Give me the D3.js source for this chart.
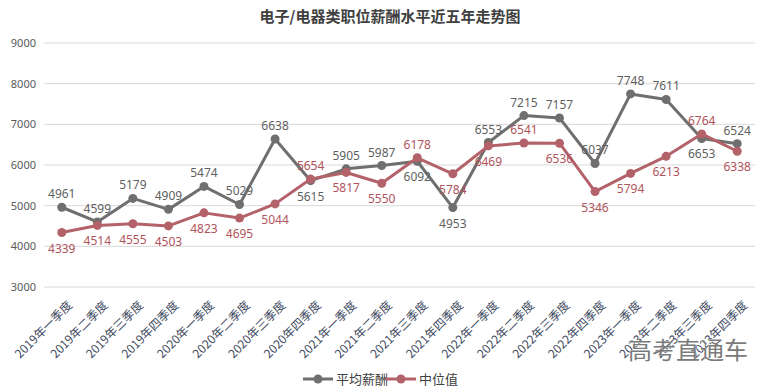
<!DOCTYPE html>
<html>
<head>
<meta charset="utf-8">
<script src="https://cdn.jsdelivr.net/npm/d3@7"></script>
<style>
  body { margin: 0; background: #fff; }
  svg text { font-family: "Noto Sans CJK SC", "Microsoft YaHei", sans-serif; }
</style>
</head>
<body>
<div id="chart"></div>
<script>
// data
const quarters = [
  '2019年一季度', '2019年二季度', '2019年三季度', '2019年四季度',
  '2020年一季度', '2020年二季度', '2020年三季度', '2020年四季度',
  '2021年一季度', '2021年二季度', '2021年三季度', '2021年四季度',
  '2022年一季度', '2022年二季度', '2022年三季度', '2022年四季度',
  '2023年一季度', '2023年二季度', '2023年三季度', '2023年四季度'
];
const avgSalary = [4961, 4599, 5179, 4909, 5474, 5029, 6638, 5615, 5905, 5987,
  6092, 4953, 6553, 7215, 7157, 6037, 7748, 7611, 6653, 6524];
const medianSalary = [4339, 4514, 4555, 4503, 4823, 4695, 5044, 5654, 5817, 5550,
  6178, 5784, 6469, 6541, 6536, 5346, 5794, 6213, 6764, 6338];
const yTicks = [3000, 4000, 5000, 6000, 7000, 8000, 9000];
const seriesNames = ['平均薪酬', '中位值'];

// label placement (1 = above, -1 = below)
const avgLabelPos = [1, 1, 1, 1, 1, 1, 1, -1, 1, 1, -1, -1, 1, 1, 1, 1, 1, 1, -1, 1];
const medLabelPos = [-1, -1, -1, -1, -1, -1, -1, 1, -1, -1, 1, -1, -1, 1, -1, -1, -1, -1, 1, -1];

const width = 765, height = 392;
const margin = { top: 43, right: 10, bottom: 105, left: 44 };
const grey = '#6f6f6f', red = '#b4626a';

const svg = d3.select('#chart').append('svg')
  .attr('width', width)
  .attr('height', height);

svg.append('text')
  .attr('x', 390).attr('y', 22)
  .attr('text-anchor', 'middle')
  .attr('font-size', 15)
  .attr('font-weight', 'bold')
  .attr('fill', '#404040')
  .text('电子/电器类职位薪酬水平近五年走势图');

const x = d3.scaleBand()
  .domain(quarters)
  .range([margin.left, width - margin.right]);

const y = d3.scaleLinear()
  .domain([3000, 9000])
  .range([height - margin.bottom, margin.top]);

// grid
svg.append('g')
  .selectAll('line')
  .data(yTicks)
  .join('line')
  .attr('x1', margin.left)
  .attr('x2', width - margin.right)
  .attr('y1', d => y(d))
  .attr('y2', d => y(d))
  .attr('stroke', '#d9d9d9')
  .attr('stroke-width', 1);

// y axis
const yAxis = svg.append('g')
  .attr('transform', `translate(${margin.left},0)`)
  .call(d3.axisLeft(y).tickValues(yTicks).tickSize(0).tickPadding(8).tickFormat(d3.format('d')));
yAxis.select('.domain').remove();
yAxis.selectAll('text')
  .attr('font-size', 11)
  .attr('fill', '#595959')
  .style('font-family', '"Noto Sans", sans-serif');

// x axis
const xAxis = svg.append('g')
  .attr('transform', `translate(0,${height - margin.bottom})`)
  .call(d3.axisBottom(x).tickSize(0));
xAxis.select('.domain').remove();
xAxis.selectAll('text')
  .attr('font-size', 12)
  .attr('fill', '#404a60')
  .attr('text-anchor', 'end')
  .attr('dy', 0)
  .attr('transform', 'translate(9,17) rotate(-45)');

const cx = d => x(d) + x.bandwidth() / 2;

function drawSeries(values, color, labelPos, labelColor) {
  const pts = quarters.map((q, i) => ({ q, v: values[i], pos: labelPos[i] }));
  const line = d3.line().x(d => cx(d.q)).y(d => y(d.v));
  const g = svg.append('g');
  g.append('path')
    .datum(pts)
    .attr('d', line)
    .attr('fill', 'none')
    .attr('stroke', color)
    .attr('stroke-width', 3)
    .attr('stroke-linejoin', 'round');
  g.selectAll('circle')
    .data(pts)
    .join('circle')
    .attr('cx', d => cx(d.q))
    .attr('cy', d => y(d.v))
    .attr('r', 4.5)
    .attr('fill', color);
  return { g, pts, labelColor };
}

const s1 = drawSeries(avgSalary, grey, avgLabelPos, '#5f5f5f');
const s2 = drawSeries(medianSalary, red, medLabelPos, '#b0545c');

// labels on top of both lines
[s1, s2].forEach(s => {
  svg.append('g')
    .selectAll('text')
    .data(s.pts)
    .join('text')
    .attr('x', d => cx(d.q))
    .attr('y', d => y(d.v) + (d.pos > 0 ? -9 : 20))
    .attr('text-anchor', 'middle')
    .attr('font-size', 12)
    .attr('fill', s.labelColor)
    .style('font-family', '"Noto Sans", sans-serif')
    .text(d => d.v);
});

// legend
const legend = svg.append('g').attr('transform', 'translate(303,379)');
[grey, red].forEach((c, i) => {
  const lg = legend.append('g').attr('transform', `translate(${i * 83},0)`);
  lg.append('line').attr('x1', 0).attr('x2', 30).attr('stroke', c).attr('stroke-width', 3);
  lg.append('circle').attr('cx', 15).attr('r', 4.5).attr('fill', c);
  lg.append('text')
    .attr('x', 33).attr('y', 4.5)
    .attr('font-size', 13)
    .attr('fill', '#404040')
    .text(seriesNames[i]);
});

// watermark
svg.append('text')
  .attr('x', 628).attr('y', 359)
  .attr('font-size', 24)
  .attr('fill', '#7a7a7a')
  .attr('stroke', '#fff')
  .attr('stroke-width', 0.6)
  .attr('paint-order', 'stroke')
  .text('高考直通车');
</script>
</body>
</html>
